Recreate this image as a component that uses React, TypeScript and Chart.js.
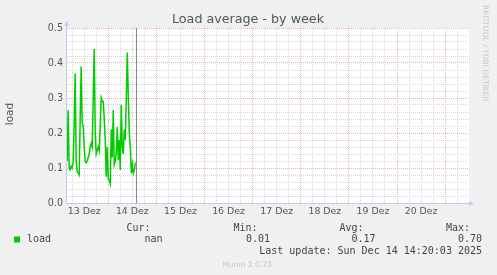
import { useEffect, useRef } from "react";
import { Chart, registerables } from "chart.js";

Chart.register(...registerables);

// ---- data ----
const dayLabels = ["13 Dez", "14 Dez", "15 Dez", "16 Dez", "17 Dez", "18 Dez", "19 Dez", "20 Dez"];
// hours since 13 Dez 00:00
const startHour = 3.5;
const stepHours = 0.5;
const loadValues = [
  0.12, 0.265, 0.1, 0.095, 0.105, 0.1, 0.115, 0.22, 0.37, 0.12,
  0.09, 0.085, 0.08, 0.24, 0.39, 0.23, 0.22, 0.16, 0.12, 0.115,
  0.12, 0.13, 0.14, 0.16, 0.17, 0.16, 0.3, 0.44, 0.2, 0.14,
  0.15, 0.16, 0.15, 0.22, 0.3, 0.29, 0.29, 0.24, 0.18, 0.075,
  0.16, 0.07, 0.065, 0.055, 0.21, 0.13, 0.266, 0.11, 0.12, 0.143,
  0.217, 0.123, 0.18, 0.094, 0.28, 0.16, 0.14, 0.21, 0.18, 0.3,
  0.43, 0.3, 0.2, 0.16, 0.085, 0.11, 0.085, 0.094, 0.115,
];
const xMinHour = 3.43;
const xMaxHour = 203.9;
const nowHour = 37.95;
const yMax = 0.5;
const legendName = "load";
const legendCur = "nan";
const legendMin = "0.01";
const legendAvg = "0.17";
const legendMax = "0.70";
const lastUpdate = "Last update: Sun Dec 14 14:20:03 2025";
const titleText = "Load average - by week";
const yAxisTitle = "load";
const sideText = "RRDTOOL / TOBI OETIKER";
const footerText = "Munin 2.0.73";

const GREEN = "#00cc00";
const MAJOR = "#ecb2b2";
const MINOR = "#d8d8d8";
const AXIS = "#c4cbf2";
const TEXT = "#555555";

const decoPlugin = {
  id: "munindeco",
  beforeDraw(chart: any) {
    const { ctx, chartArea: a } = chart;
    ctx.save();
    ctx.fillStyle = "#f0f0f0";
    ctx.fillRect(0, 0, chart.width, chart.height);
    ctx.fillStyle = "#ffffff";
    ctx.fillRect(a.left, a.top, a.right - a.left, a.bottom - a.top);
    ctx.restore();
  },
  afterDatasetsDraw(chart: any) {
    const { ctx, chartArea: a, scales } = chart;
    ctx.save();
    // now line
    const nx = Math.round(scales.x.getPixelForValue(nowHour)) + 0.5;
    ctx.strokeStyle = "#8a8a8a";
    ctx.lineWidth = 1;
    ctx.beginPath();
    ctx.moveTo(nx, a.top);
    ctx.lineTo(nx, a.bottom);
    ctx.stroke();
    // axes
    const lx = Math.round(a.left) - 0.5;
    const by = Math.round(a.bottom) + 0.5;
    ctx.strokeStyle = AXIS;
    ctx.beginPath();
    ctx.moveTo(lx, by);
    ctx.lineTo(lx, a.top - 4);
    ctx.moveTo(lx, by);
    ctx.lineTo(a.right + 2, by);
    ctx.stroke();
    ctx.fillStyle = AXIS;
    ctx.beginPath();
    ctx.moveTo(lx, a.top - 7);
    ctx.lineTo(lx - 2.5, a.top - 2);
    ctx.lineTo(lx + 2.5, a.top - 2);
    ctx.closePath();
    ctx.fill();
    ctx.beginPath();
    ctx.moveTo(a.right + 5, by);
    ctx.lineTo(a.right, by - 2.5);
    ctx.lineTo(a.right, by + 2.5);
    ctx.closePath();
    ctx.fill();
    ctx.restore();
  },
  afterDraw(chart: any) {
    const { ctx } = chart;
    ctx.save();
    // title
    ctx.fillStyle = TEXT;
    ctx.font = "12.7px 'DejaVu Sans'";
    ctx.textAlign = "center";
    ctx.textBaseline = "alphabetic";
    ctx.fillText(titleText, 248, 23);
    // y axis title
    ctx.save();
    ctx.translate(13, 114);
    ctx.rotate(-Math.PI / 2);
    ctx.font = "10.5px 'DejaVu Sans'";
    ctx.textAlign = "center";
    ctx.fillText(yAxisTitle, 0, 0);
    ctx.restore();
    // side text
    ctx.save();
    ctx.translate(483, 5);
    ctx.rotate(Math.PI / 2);
    ctx.font = "7.5px 'DejaVu Sans'";
    ctx.fillStyle = "#c8c8c8";
    ctx.textAlign = "left";
    ctx.fillText(sideText, 0, 0);
    ctx.restore();
    // legend
    ctx.fillStyle = GREEN;
    ctx.fillRect(14, 236.5, 6, 6);
    ctx.fillStyle = "#444444";
    ctx.font = "10px 'DejaVu Sans Mono'";
    ctx.textAlign = "left";
    ctx.fillText(legendName, 27, 242);
    ctx.textAlign = "right";
    ctx.fillText("Cur:", 150.5, 231);
    ctx.fillText(legendCur, 162.5, 242);
    ctx.fillText("Min:", 257.5, 231);
    ctx.fillText(legendMin, 270, 242);
    ctx.fillText("Avg:", 363.5, 231);
    ctx.fillText(legendAvg, 375.5, 242);
    ctx.fillText("Max:", 470, 231);
    ctx.fillText(legendMax, 482, 242);
    ctx.fillText(lastUpdate, 482, 254);
    // footer
    ctx.fillStyle = "#c8c8c8";
    ctx.font = "7.6px 'DejaVu Sans'";
    ctx.textAlign = "center";
    ctx.fillText(footerText, 247, 267);
    ctx.restore();
  },
};

export default function App() {
  const ref = useRef<HTMLCanvasElement | null>(null);
  useEffect(() => {
    if (!ref.current) return;
    const points = loadValues.map((v, i) => ({ x: startHour + i * stepHours, y: v }));
    const chart = new Chart(ref.current, {
      type: "line",
      data: {
        datasets: [
          {
            label: legendName,
            data: points,
            borderColor: GREEN,
            borderWidth: 1.5,
            pointRadius: 0,
            tension: 0,
            fill: false,
          },
        ],
      },
      options: {
        animation: false,
        responsive: false,
        devicePixelRatio: 1,
        layout: { padding: { left: 0, top: 28, right: 28, bottom: 0 } },
        plugins: { legend: { display: false }, tooltip: { enabled: false }, title: { display: false } },
        scales: {
          x: {
            type: "linear",
            min: xMinHour,
            max: xMaxHour,
            afterBuildTicks: (scale: any) => {
              const t = [];
              for (let h = 6; h <= xMaxHour; h += 6) t.push({ value: h });
              scale.ticks = t;
            },
            afterFit: (scale: any) => {
              scale.height = 72;
            },
            ticks: {
              autoSkip: false,
              maxRotation: 0,
              padding: 3,
              color: TEXT,
              font: { family: "'DejaVu Sans'", size: 9.4 },
              callback: (value: any) => {
                const v = Number(value);
                if (v % 24 === 12) return dayLabels[(v - 12) / 24] ?? "";
                return "";
              },
            },
            grid: {
              drawTicks: false,
              color: (c: any) => (c.tick && c.tick.value % 24 === 0 ? MAJOR : MINOR),
              lineWidth: 1,
            },
            border: { display: false, dash: [1, 1] },
          },
          y: {
            min: 0,
            max: yMax,
            afterBuildTicks: (scale: any) => {
              const t = [];
              for (let i = 0; i <= 25; i++) t.push({ value: i * 0.02 });
              scale.ticks = t;
            },
            afterFit: (scale: any) => {
              scale.width = 67;
            },
            ticks: {
              autoSkip: false,
              padding: 4,
              color: TEXT,
              font: { family: "'DejaVu Sans'", size: 9.6 },
              callback: (_v: any, index: number) => (index % 5 === 0 ? (index * 0.02).toFixed(1) : ""),
            },
            grid: {
              drawTicks: false,
              color: (c: any) => (c.index % 5 === 0 ? MAJOR : MINOR),
              lineWidth: 1,
            },
            border: { display: false, dash: [1, 1] },
          },
        },
      },
      plugins: [decoPlugin],
    } as any);
    return () => chart.destroy();
  }, []);
  return (
    <div style={{ position: "fixed", left: 0, top: 0, width: 497, height: 275, background: "#f0f0f0" }}>
      <canvas ref={ref} width={497} height={275} style={{ width: 497, height: 275, display: "block" }} />
    </div>
  );
}
